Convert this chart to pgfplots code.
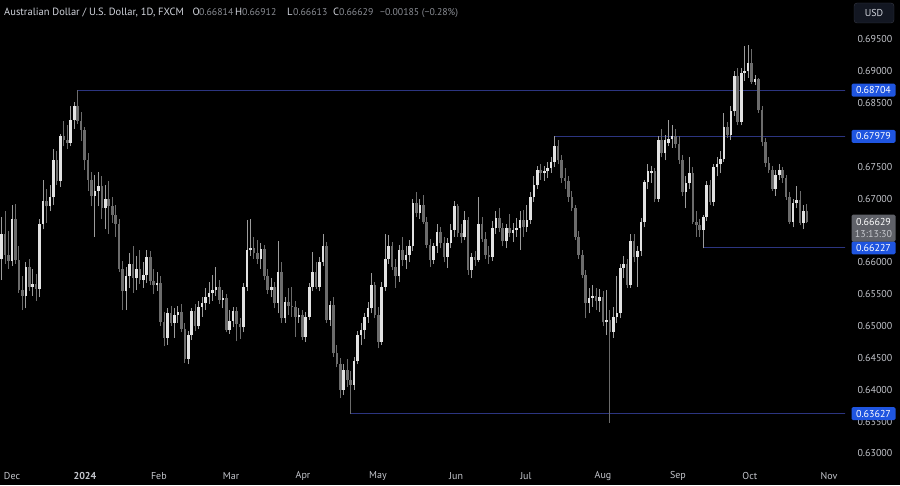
\documentclass[border=0pt]{standalone}
\usepackage{pgfplots}
\pgfplotsset{compat=1.18}
\usepackage{pgfplotstable}
\usepackage{fontspec}
\setmainfont{PT Sans}
\definecolor{upc}{HTML}{E2E2E2}
\definecolor{upw}{HTML}{9C9C9C}
\definecolor{dnc}{HTML}{6C6C6C}
\definecolor{lvl}{HTML}{2C3580}
\definecolor{tag}{HTML}{1F55E0}
\definecolor{txt}{HTML}{D1D4DC}
\definecolor{num}{HTML}{8A8D94}
\definecolor{tck}{HTML}{C4C6CC}
\definecolor{cur}{HTML}{5F6168}
\definecolor{btn}{HTML}{363A45}
\definecolor{btnf}{HTML}{131722}
% up candles (close >= open): index, open, high, low, close
\pgfplotstableread{
i O H L C
-3 .6605 .6672 .6572 .6645
0 .6602 .6690 .6595 .6668
4 .6548 .6600 .6528 .6592
6 .6562 .6590 .6548 .6566
8 .6558 .6668 .6545 .6660
9 .6660 .6730 .6652 .6697
11 .6688 .6722 .6680 .6702
12 .6702 .6778 .6690 .6760
14 .6728 .6802 .6718 .6798
17 .6788 .6845 .6782 .6824
18 .6824 .6852 .6810 .6845
24 .6704 .6738 .6640 .6712
25 .6712 .6742 .6688 .6720
27 .6686 .6722 .6652 .6700
33 .6555 .6592 .6525 .6578
34 .6578 .6615 .6560 .6598
36 .6576 .6610 .6556 .6590
38 .6572 .6600 .6560 .6580
39 .6580 .6620 .6568 .6609
42 .6564 .6585 .6555 .6568
45 .6481 .6528 .6470 .6520
47 .6505 .6528 .6482 .6517
48 .6517 .6532 .6505 .6522
51 .6449 .6492 .6440 .6486
52 .6486 .6528 .6478 .6523
54 .6500 .6540 .6495 .6530
55 .6530 .6545 .6515 .6536
56 .6536 .6560 .6525 .6546
57 .6546 .6570 .6535 .6552
58 .6552 .6580 .6540 .6557
59 .6557 .6593 .6548 .6562
61 .6541 .6556 .6528 .6544
63 .6494 .6525 .6488 .6508
64 .6508 .6530 .6498 .6523
67 .6498 .6568 .6490 .6562
68 .6562 .6667 .6555 .6619
69 .6619 .6668 .6610 .6623
72 .6605 .6630 .6590 .6621
75 .6557 .6575 .6545 .6562
77 .6536 .6633 .6520 .6585
79 .6512 .6545 .6505 .6538
83 .6515 .6528 .6505 .6518
85 .6483 .6522 .6475 .6515
86 .6515 .6568 .6510 .6562
87 .6562 .6617 .6555 .6585
89 .6562 .6608 .6555 .6601
90 .6601 .6644 .6595 .6625
92 .6510 .6540 .6500 .6533
96 .6400 .6440 .6392 .6431
99 .6408 .6452 .6400 .6445
100 .6445 .6492 .6440 .6486
101 .6486 .6505 .6470 .6494
102 .6494 .6520 .6480 .6515
103 .6515 .6538 .6505 .6528
104 .6528 .6584 .6520 .6564
107 .6475 .6570 .6470 .6562
108 .6562 .6644 .6555 .6606
109 .6606 .6643 .6598 .6625
112 .6578 .6628 .6570 .6620
114 .6604 .6625 .6590 .6612
115 .6612 .6635 .6600 .6625
116 .6625 .6700 .6618 .6693
118 .6677 .6700 .6668 .6690
122 .6604 .6630 .6598 .6625
123 .6625 .6660 .6615 .6648
126 .6609 .6638 .6591 .6630
127 .6630 .6660 .6622 .6651
128 .6651 .6696 .6640 .6688
131 .6640 .6680 .6635 .6667
133 .6588 .6615 .6575 .6608
135 .6604 .6703 .6600 .6660
139 .6609 .6665 .6602 .6654
140 .6654 .6680 .6645 .6669
143 .6633 .6660 .6622 .6654
145 .6646 .6662 .6632 .6651
146 .6651 .6670 .6640 .6654
147 .6654 .6680 .6620 .6667
149 .6656 .6690 .6648 .6667
150 .6667 .6710 .6660 .6703
151 .6703 .6735 .6695 .6721
152 .6721 .6752 .6715 .6745
154 .6740 .6752 .6728 .6744
155 .6744 .6758 .6732 .6748
156 .6748 .6765 .6740 .6758
157 .6758 .6798 .6750 .6782
167 .6536 .6560 .6520 .6544
168 .6544 .6565 .6530 .6548
170 .6540 .6558 .6522 .6545
172 .6506 .6556 .6486 .6510
174 .6491 .6530 .6482 .6515
175 .6515 .6578 .6505 .6520
176 .6520 .6598 .6512 .6591
177 .6591 .6610 .6575 .6597
179 .6565 .6645 .6560 .6633
181 .6609 .6625 .6562 .6618
182 .6618 .6670 .6610 .6664
183 .6664 .6730 .6655 .6727
184 .6727 .6755 .6715 .6743
185 .6740 .6752 .6725 .6744
187 .6700 .6798 .6695 .6792
189 .6771 .6800 .6760 .6792
190 .6788 .6824 .6782 .6793
191 .6793 .6815 .6780 .6798
195 .6711 .6735 .6685 .6724
196 .6724 .6765 .6715 .6740
200 .6651 .6675 .6622 .6672
201 .6672 .6728 .6665 .6721
203 .6695 .6755 .6688 .6750
204 .6750 .6765 .6735 .6755
205 .6755 .6775 .6740 .6763
206 .6763 .6835 .6758 .6813
208 .6800 .6845 .6792 .6837
209 .6837 .6900 .6830 .6892
211 .6821 .6905 .6815 .6897
212 .6897 .6940 .6885 .6900
213 .6900 .6942 .6890 .6913
215 .6884 .6895 .6878 .6888
221 .6716 .6745 .6705 .6737
222 .6737 .6755 .6730 .6745
226 .6664 .6700 .6655 .6693
227 .6693 .6720 .6685 .6698
229 .6662 .6690 .6652 .6681
}\upcandles
% down candles (close < open)
\pgfplotstableread{
i O H L C
-2 .6645 .6680 .6598 .6612
-1 .6612 .6650 .6590 .6602
1 .6668 .6692 .6598 .6604
2 .6604 .6625 .6552 .6556
3 .6556 .6578 .6525 .6548
5 .6592 .6605 .6555 .6562
7 .6566 .6582 .6540 .6558
10 .6697 .6715 .6662 .6688
13 .6760 .6775 .6722 .6728
15 .6798 .6822 .6782 .6792
16 .6792 .6815 .6778 .6788
19 .6845 .6870 .6818 .6822
20 .6822 .6836 .6790 .6808
21 .6808 .6812 .6745 .6760
22 .6760 .6772 .6712 .6730
23 .6730 .6742 .6688 .6704
26 .6720 .6735 .6668 .6686
28 .6700 .6728 .6645 .6688
29 .6688 .6702 .6662 .6674
30 .6674 .6690 .6640 .6660
31 .6660 .6668 .6585 .6590
32 .6590 .6602 .6525 .6555
35 .6598 .6625 .6552 .6576
37 .6590 .6620 .6566 .6572
40 .6609 .6618 .6565 .6571
41 .6571 .6590 .6550 .6564
43 .6568 .6578 .6500 .6507
44 .6507 .6522 .6468 .6481
46 .6520 .6532 .6500 .6505
49 .6522 .6535 .6490 .6496
50 .6496 .6505 .6442 .6449
53 .6523 .6535 .6492 .6500
60 .6562 .6572 .6535 .6541
62 .6544 .6550 .6490 .6494
65 .6523 .6530 .6476 .6504
66 .6504 .6512 .6480 .6498
70 .6623 .6640 .6605 .6614
71 .6614 .6635 .6598 .6605
73 .6621 .6628 .6572 .6578
74 .6578 .6590 .6550 .6557
76 .6562 .6570 .6528 .6536
78 .6585 .6600 .6505 .6512
80 .6538 .6560 .6518 .6532
81 .6532 .6562 .6515 .6530
82 .6530 .6540 .6483 .6515
84 .6518 .6525 .6478 .6483
88 .6585 .6600 .6558 .6562
91 .6625 .6632 .6505 .6510
93 .6533 .6545 .6452 .6457
94 .6457 .6470 .6435 .6441
95 .6441 .6450 .6387 .6400
97 .6431 .6448 .6405 .6416
98 .6416 .6430 .6362 .6408
105 .6564 .6570 .6512 .6518
106 .6518 .6530 .6465 .6475
110 .6625 .6632 .6588 .6593
111 .6593 .6605 .6560 .6578
113 .6620 .6640 .6595 .6604
117 .6693 .6711 .6672 .6677
119 .6690 .6706 .6660 .6664
120 .6664 .6672 .6622 .6627
121 .6627 .6636 .6593 .6604
124 .6648 .6655 .6622 .6630
125 .6630 .6640 .6600 .6609
129 .6688 .6692 .6640 .6646
130 .6646 .6660 .6630 .6640
132 .6667 .6672 .6580 .6588
134 .6608 .6618 .6595 .6604
136 .6660 .6672 .6632 .6636
137 .6636 .6648 .6605 .6612
138 .6612 .6625 .6598 .6609
141 .6669 .6685 .6648 .6654
142 .6654 .6662 .6625 .6633
144 .6654 .6676 .6640 .6646
148 .6667 .6682 .6640 .6656
153 .6745 .6755 .6730 .6740
158 .6782 .6792 .6755 .6760
159 .6760 .6768 .6725 .6732
160 .6732 .6748 .6715 .6728
161 .6728 .6735 .6695 .6703
162 .6703 .6712 .6680 .6685
163 .6685 .6690 .6635 .6640
164 .6640 .6650 .6605 .6612
165 .6612 .6620 .6575 .6580
166 .6580 .6588 .6512 .6536
169 .6548 .6560 .6525 .6540
171 .6545 .6555 .6500 .6506
173 .6510 .6525 .6348 .6491
178 .6597 .6605 .6560 .6565
180 .6633 .6645 .6600 .6609
186 .6744 .6748 .6695 .6700
188 .6792 .6810 .6765 .6771
192 .6798 .6810 .6780 .6786
193 .6786 .6798 .6755 .6761
194 .6761 .6768 .6705 .6711
197 .6740 .6750 .6660 .6664
198 .6664 .6680 .6640 .6659
199 .6659 .6668 .6640 .6651
202 .6721 .6730 .6690 .6695
207 .6813 .6820 .6795 .6800
210 .6892 .6905 .6815 .6821
214 .6913 .6935 .6880 .6884
216 .6888 .6890 .6835 .6839
217 .6839 .6845 .6782 .6789
218 .6789 .6795 .6750 .6756
219 .6756 .6765 .6740 .6745
220 .6745 .6752 .6712 .6716
223 .6745 .6750 .6725 .6732
224 .6732 .6738 .6698 .6703
225 .6703 .6710 .6660 .6664
228 .6698 .6712 .6658 .6662
230 .66814 .66912 .66613 .66629
}\dncandles
\begin{document}
\begin{tikzpicture}[x=1pt,y=1pt]
\fill[black] (0,0) rectangle (900,485);
\useasboundingbox (0,0) rectangle (900,485);
\begin{axis}[
 at={(0,0)}, anchor=south west, scale only axis, width=845pt, height=485pt,
 xmin=-3.472, xmax=241.03, ymin=0.62505, ymax=0.70120,
 axis line style={draw=none}, tick style={draw=none}, major tick length=0pt,
 xtick={0,21.1,42.5,63.4,84.2,105.9,128.5,148.7,171,192.7,213.5,236.4},
 xticklabels={Dec,\textbf{2024},Feb,Mar,Apr,May,Jun,Jul,Aug,Sep,Oct,Nov},
 xticklabel style={anchor=center, yshift=9pt, text=tck, font=\fontsize{10}{12}\selectfont},
 ytick={0.63,0.635,0.64,0.645,0.65,0.655,0.66,0.67,0.675,0.68,0.685,0.69,0.695},
 yticklabels={0.63000,0.63500,0.64000,0.64500,0.65000,0.65500,0.66000,0.67000,0.67500,0.68000,0.68500,0.69000,0.69500},
 yticklabel pos=right,
 yticklabel style={anchor=west, xshift=9pt, text=tck, font=\fontsize{10}{12}\selectfont},
 clip=true,
]
\addplot[lvl, line width=1pt] coordinates {(19,0.68704) (242,0.68704)};
\addplot[lvl, line width=1pt] coordinates {(157,0.67979) (242,0.67979)};
\addplot[lvl, line width=1pt] coordinates {(200,0.66227) (242,0.66227)};
\addplot[lvl, line width=1pt] coordinates {(98,0.63627) (242,0.63627)};
% wicks (low to high)
\addplot[upw, -, line width=0.9pt, quiver={u=0, v=\thisrow{H}-\thisrow{L}}] table[x=i, y=L] {\upcandles};
\addplot[dnc, -, line width=0.9pt, quiver={u=0, v=\thisrow{H}-\thisrow{L}}] table[x=i, y=L] {\dncandles};
% bodies (open to close)
\addplot[upc, -, line width=2.6pt, quiver={u=0, v=\thisrow{C}-\thisrow{O}}] table[x=i, y=O] {\upcandles};
\addplot[dnc, -, line width=2.6pt, quiver={u=0, v=\thisrow{O}-\thisrow{C}}] table[x=i, y=C] {\dncandles};
\coordinate (p1) at (axis cs:0,0.68704);
\coordinate (p2) at (axis cs:0,0.67979);
\coordinate (p3) at (axis cs:0,0.66227);
\coordinate (p4) at (axis cs:0,0.63627);
\coordinate (pc) at (axis cs:0,0.66629);
\end{axis}
\coordinate (xr) at (873.5,0);
\foreach \c/\t in {p1/0.68704,p2/0.67979,p3/0.66227,p4/0.63627}
  \node[fill=tag, text=white, minimum width=44pt, minimum height=13pt, inner sep=0pt, rounded corners=1.5pt, font=\fontsize{10}{12}\selectfont] at (\c -| xr) {\t};
\node[fill=cur, text=white, anchor=north, yshift=8pt, minimum width=44pt, minimum height=27pt, inner sep=0pt, rounded corners=1.5pt, align=center, font=\fontsize{10}{12.5}\selectfont] at (pc -| xr) {0.66629\\{\color{tck}13:13:30}};
\node[draw=btn, fill=btnf, rounded corners=3pt, minimum width=40pt, minimum height=20pt, inner sep=0pt, text=txt, font=\fontsize{10}{12}\selectfont] at (874,472) {USD};
\begin{scope}[every node/.style={anchor=base west, inner sep=0pt}]
\node[text=txt, font=\fontsize{10.5}{12}\selectfont] at (4,469) {Australian Dollar / U.S. Dollar, 1D, FXCM};
\node[text=txt, font=\fontsize{10.5}{12}\selectfont] at (192.5,469) {O};
\node[text=num, font=\fontsize{9.8}{12}\selectfont] at (199,469) {0.66814};
\node[text=txt, font=\fontsize{10.5}{12}\selectfont] at (235,469) {H};
\node[text=num, font=\fontsize{9.8}{12}\selectfont] at (242,469) {0.66912};
\node[text=txt, font=\fontsize{10.5}{12}\selectfont] at (287,469) {L};
\node[text=num, font=\fontsize{9.8}{12}\selectfont] at (293,469) {0.66613};
\node[text=txt, font=\fontsize{10.5}{12}\selectfont] at (333,469) {C};
\node[text=num, font=\fontsize{9.8}{12}\selectfont] at (339,469) {0.66629};
\node[text=num, font=\fontsize{9.8}{12}\selectfont] at (380,469) {−0.00185 (−0.28\%)};
\end{scope}
\end{tikzpicture}
\end{document}
